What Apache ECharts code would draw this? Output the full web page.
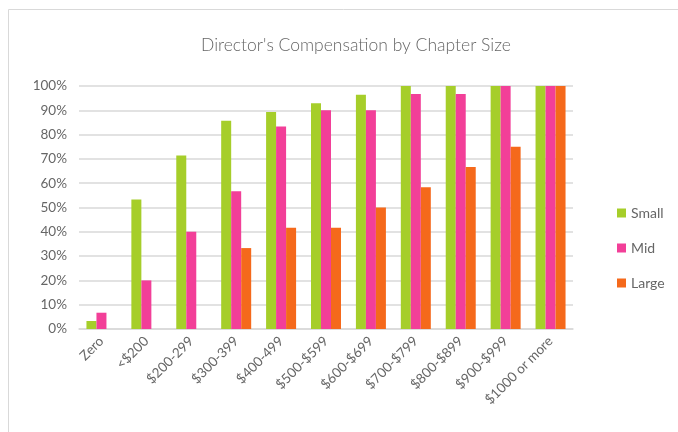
<!DOCTYPE html>
<html><head><meta charset="utf-8">
<script src="https://cdn.jsdelivr.net/npm/echarts@6/dist/echarts.min.js"></script>
<style>html,body{margin:0;padding:0;background:#fff}#c{width:678px;height:432px}</style>
</head><body><div id="c"></div>
<script>
const categories = ['Zero','<$200','$200-299','$300-399','$400-499','$500-$599','$600-$699','$700-$799','$800-$899','$900-$999','$1000 or more'];
const small = [3.3, 53.3, 71.4, 85.7, 89.3, 92.9, 96.4, 100, 100, 100, 100];
const mid = [6.7, 20, 40, 56.7, 83.3, 90, 90, 96.7, 96.7, 100, 100];
const large = [0, 0, 0, 33.3, 41.7, 41.7, 50, 58.3, 66.7, 75, 100];
const yTicks = [0,10,20,30,40,50,60,70,80,90,100];

const chart = echarts.init(document.getElementById('c'), null, {renderer:'canvas'});
const font = 'Lato, "Open Sans", sans-serif';
const mk = (name, data, color) => ({name, type:'bar', data, barWidth:10, barGap:'0%', itemStyle:{color}});
chart.setOption({
  animation:false,
  textStyle:{fontFamily:font},
  graphic:[{type:'rect', shape:{x:8.5,y:9.5,width:700,height:440}, style:{fill:'none', stroke:'#d9d9d9', lineWidth:1}, silent:true}],
  title:{text:"Director's Compensation by Chapter Size", left:351, top:31, textAlign:'center',
    textStyle:{fontFamily:font, fontSize:17.5, fontWeight:300, color:'#666666'}},
  legend:{orient:'vertical', left:612, top:201, itemGap:21, itemWidth:9, itemHeight:9, icon:'rect',
    textStyle:{fontFamily:font, fontSize:14, color:'#666666'}, data:['Small','Mid','Large']},
  grid:{left:79, right:105, top:86, bottom:103},
  xAxis:{type:'category', data:categories,
    axisLine:{lineStyle:{color:'#d9d9d9', width:1.5}}, axisTick:{show:false},
    axisLabel:{rotate:45, interval:0, color:'#666666', fontSize:13.5, fontFamily:font, margin:10}},
  yAxis:{type:'value', min:0, max:100, interval:10,
    axisLabel:{formatter:v=>v+'%', color:'#666666', fontSize:13.5, fontFamily:font, margin:12},
    splitLine:{lineStyle:{color:'#d9d9d9', width:1.5}}, axisLine:{show:false}, axisTick:{show:false}},
  series:[mk('Small', small, '#a6ce2a'), mk('Mid', mid, '#f23f98'), mk('Large', large, '#f5691b')]
});
</script></body></html>
